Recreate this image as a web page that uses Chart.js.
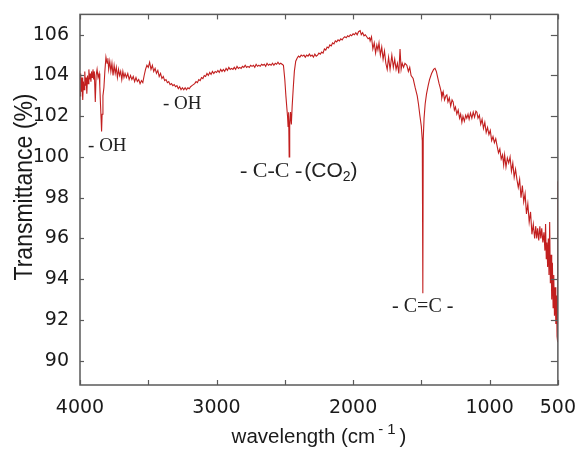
<!DOCTYPE html>
<html><head><meta charset="utf-8">
<script src="https://cdn.jsdelivr.net/npm/chart.js@4/dist/chart.umd.min.js"></script>
<style>html,body{margin:0;padding:0;background:#fff}#wrap{width:580px;height:451px}</style>
</head><body><div id="wrap"><canvas id="c" width="580" height="451"></canvas></div>
<script>
// ---- data (wavenumber in cm-1, transmittance in %) ----
const wavenumbers = [
4000,3995,3990,3985,3980,3975,3970,3965,3960,3955,3950,3945,3940,3935,3930,3925,3920,3915,3910,3905,3900,3895,3888,3882,3875,3868,3860,3855,3850,3845,3842,3838,3832,3825,3818,3810,3802,3796,3790,
3782,3774,3766,3758,3750,3742,3734,3726,3718,3710,3702,3694,3686,3678,3670,3660,3650,3640,3630,3620,3610,3600,3590,3580,3570,3560,3550,3540,3530,3520,3510,3500,3490,3480,3470,3460,3450,3440,3430,3420,3410,3400,3390,3380,3370,3360,3350,3340,3330,3320,3310,3300,3290,3280,3270,3260,3250,3240,3230,3220,3210,3200,3190,3180,3170,3160,3150,3140,3130,3120,3110,3100,3090,3080,3070,3060,3050,3040,3030,3020,3010,3000,
2990,2980,2970,2960,2950,2940,2930,2920,2910,2900,2890,2880,2870,2860,2850,2840,2830,2820,2810,2800,2790,2780,2770,2760,2750,2740,2730,2720,2710,2700,2690,2680,2670,2660,2650,2640,2630,2620,2610,2600,2590,2580,2570,2560,2550,2540,2530,2520,2510,2500,2492,2485,2480,2476,2472,2468,2464,2458,2452,2446,2438,2430,2420,2410,2400,
2390,2380,2370,2360,2350,2340,2330,2320,2310,2300,2290,2280,2270,2260,2250,2240,2230,2220,2210,2200,2190,2180,2170,2160,2150,2140,2130,2120,2110,2100,2090,2080,2070,2060,2050,2040,2030,2020,2010,2000,1990,1980,1970,1960,1948,
1940,1930,1920,1910,1900,1890,1880,1875,1865,1855,1845,1835,1826,1818,1810,1800,1790,1780,1770,1760,1750,1740,1729,1716,1705,1695,1685,1675,1665,1656,1648,1640,1630,1620,1606,1595,1585,1575,1560,1545,1530,1521,1510,1500,1493,1489,1486,1480,1472,1462,1450,1440,1425,1410,1400,1390,1380,1370,1362,1355,1350,
1340,1330,1320,1313,1305,1295,1285,1275,1267,1258,1250,1240,1230,1220,1212,1203,1195,1185,1175,1167,1158,1150,1140,1130,1120,1110,1100,1093,1085,1075,1065,1055,1045,1035,1025,1015,1005,995,985,975,965,955,947,935,925,915,905,897,890,880,870,860,850,840,830,820,810,800,790,780,770,760,750,740,730,720,710,700,690,680,670,662,655,648,640,632,625,618,610,602,595,590,585,580,575,570,565,560,555,550,545,540,535,530,525,520,515,510,506,503,500
];
const transmittance = [
103.0,104.1,103.2,103.9,102.8,103.7,103.3,104.2,103.5,103.9,103.1,104.0,103.6,104.3,103.8,104.1,103.7,104.2,103.9,104.3,103.8,104.2,102.7,104.0,104.3,103.9,104.1,103.5,102.6,101.8,101.25,102.1,103.0,103.4,104.2,104.9,104.6,104.85,104.3,
104.7,104.2,104.6,104.0,104.5,104.1,104.4,103.9,104.3,104.0,104.2,103.8,104.2,103.9,104.1,103.9,104.1,103.8,104.0,103.8,103.95,103.7,103.9,103.7,103.8,103.6,103.75,103.65,104.0,104.3,104.5,104.4,104.65,104.3,104.5,104.2,104.35,104.1,104.25,103.95,104.1,103.85,103.95,103.75,103.8,103.65,103.7,103.55,103.6,103.5,103.55,103.45,103.5,103.35,103.45,103.3,103.4,103.3,103.4,103.3,103.4,103.35,103.45,103.5,103.55,103.6,103.7,103.65,103.8,103.75,103.9,103.85,104.0,103.95,104.1,104.0,104.15,104.05,104.2,104.1,104.2,104.15,
104.25,104.15,104.3,104.2,104.3,104.2,104.35,104.25,104.4,104.3,104.35,104.3,104.4,104.3,104.45,104.35,104.4,104.35,104.45,104.4,104.5,104.4,104.45,104.4,104.5,104.45,104.5,104.4,104.55,104.45,104.5,104.45,104.55,104.5,104.55,104.45,104.6,104.5,104.55,104.5,104.6,104.5,104.6,104.55,104.65,104.55,104.6,104.55,104.5,103.8,103.0,102.4,102.0,101.5,102.2,100.0,101.6,102.2,101.6,102.5,103.4,104.2,104.7,104.85,104.95,
104.9,105.0,104.95,105.0,104.9,105.0,104.95,105.05,104.95,105.0,104.9,105.05,104.95,105.0,105.1,105.05,105.15,105.1,105.3,105.25,105.4,105.35,105.5,105.45,105.6,105.55,105.7,105.65,105.75,105.7,105.8,105.75,105.85,105.9,105.85,105.95,105.9,106.0,105.95,106.05,106.0,106.1,106.0,106.15,106.2,
106.0,106.1,105.95,106.0,105.9,105.8,105.85,105.7,105.9,105.3,105.6,105.1,105.5,105.25,105.6,105.0,105.4,104.8,105.2,104.6,104.3,104.9,104.3,105.0,104.4,104.8,104.3,104.6,104.1,105.3,104.3,104.6,104.4,104.6,104.5,104.2,104.4,104.0,103.85,103.4,103.0,102.6,102.0,101.5,100.8,93.3,100.9,101.9,102.6,103.1,103.5,103.8,104.1,104.3,104.35,104.2,103.9,103.6,103.4,103.2,102.9,
103.2,102.8,103.0,103.05,102.7,102.9,102.5,102.8,102.7,102.3,102.45,102.1,102.3,101.9,102.1,101.7,102.0,101.75,102.05,101.9,102.1,101.85,102.15,101.9,102.2,101.95,102.25,102.2,101.9,102.05,101.6,101.85,101.4,101.7,101.2,101.45,101.1,101.3,100.8,101.0,100.7,100.9,100.6,100.2,100.4,99.9,100.1,99.6,100.1,99.5,99.95,99.7,100.0,99.3,99.7,99.0,99.4,98.9,98.5,98.9,98.0,98.6,97.8,98.2,97.2,97.7,96.8,97.3,96.2,96.7,96.0,96.6,96.0,96.5,95.9,96.6,96.0,96.5,95.8,96.3,95.4,96.7,95.0,95.8,94.6,96.0,94.2,96.8,93.8,95.2,93.0,94.8,92.6,94.2,92.2,93.6,91.8,93.2,91.2,98.8,90.9
];
const xTickValues = [4000,3500,3000,2500,2000,1500,1000,500];
const xTickLabels = ['4000','','3000','','2000','','1000','500'];
const yTickValues = [90,92,94,96,98,100,102,104,106];
const yTickLabels = ['90','92','94','96','98','100','102','104','106'];
const xTitle = 'wavelength (cm';
const xTitleSup = '-1';
const yTitle = 'Transmittance (%)';
// peak annotations: text and the spectrum point they sit at
const annoTexts = ['- OH', '- OH', '- C-C -', '- C=C -'];
const annoWn = [3941, 3392, 2828, 1714];
const annoT = [100.28, 102.33, 99.0, 92.38];
const co2Text = ['(CO', '2', ')'];

const points = wavenumbers.map((w, i) => ({x: w, y: transmittance[i]}));

const decor = {
  id: 'decor',
  beforeDraw(chart) {
    const ctx = chart.ctx;
    ctx.save(); ctx.fillStyle = '#fff'; ctx.fillRect(0, 0, chart.width, chart.height); ctx.restore();
  },
  afterDraw(chart) {
    const ctx = chart.ctx, ca = chart.chartArea;
    const xs = chart.scales.x, ys = chart.scales.y;
    ctx.save();
    ctx.strokeStyle = '#5a5a5a'; ctx.lineWidth = 1.5;
    ctx.strokeRect(ca.left, ca.top, ca.right - ca.left, ca.bottom - ca.top);
    ctx.lineWidth = 1.2;
    const ln = (a, b, c, d) => { ctx.beginPath(); ctx.moveTo(a, b); ctx.lineTo(c, d); ctx.stroke(); };
    xTickValues.forEach(v => {
      const px = Math.round(xs.getPixelForValue(v)) + 0.5;
      ln(px, ca.bottom, px, ca.bottom - 5);
      ln(px, ca.top, px, ca.top + 5);
    });
    yTickValues.forEach(v => {
      const py = Math.round(ys.getPixelForValue(v)) + 0.5;
      ln(ca.left, py, ca.left + 4, py);
      ln(ca.right, py, ca.right - 7, py);
    });
    // axis titles
    ctx.fillStyle = '#1a1a1a';
    ctx.save();
    ctx.translate(31.5, 187);
    ctx.rotate(-Math.PI / 2);
    ctx.scale(1, 1.12);
    ctx.font = '23px "Liberation Sans", Arial, sans-serif';
    ctx.textAlign = 'center'; ctx.textBaseline = 'alphabetic';
    ctx.fillText(yTitle, 0, 0);
    ctx.restore();

    ctx.font = '20.5px "Liberation Sans", Arial, sans-serif';
    ctx.textAlign = 'left'; ctx.textBaseline = 'alphabetic';
    const w1 = ctx.measureText(xTitle).width;
    ctx.font = '15px "Liberation Sans", Arial, sans-serif';
    ctx.letterSpacing = '4px';
    const w2 = ctx.measureText(xTitleSup).width;
    ctx.letterSpacing = '0px';
    ctx.font = '20.5px "Liberation Sans", Arial, sans-serif';
    const w3 = ctx.measureText(')').width;
    const total = w1 + 3 + w2 + w3;
    let sx = (ca.left + ca.right) / 2 - total / 2;
    const by = 443;
    ctx.fillText(xTitle, sx, by);
    sx += w1 + 3;
    ctx.font = '15px "Liberation Sans", Arial, sans-serif';
    ctx.letterSpacing = '4px';
    ctx.fillText(xTitleSup, sx, by - 9);
    ctx.letterSpacing = '0px';
    sx += w2;
    ctx.font = '20.5px "Liberation Sans", Arial, sans-serif';
    ctx.fillText(')', sx, by);

    // annotations
    const annoSizes = [19, 19, 22, 20];
    ctx.fillStyle = '#222';
    annoTexts.forEach((t, i) => {
      ctx.font = annoSizes[i] + 'px "Liberation Serif", "Times New Roman", serif';
      const px = xs.getPixelForValue(annoWn[i]);
      const py = ys.getPixelForValue(annoT[i]);
      ctx.fillText(t, px, py);
      if (i === 2) {
        let cx = px + ctx.measureText(t).width + 2;
        ctx.font = '21px "Liberation Sans", Arial, sans-serif';
        ctx.fillText(co2Text[0], cx, py);
        cx += ctx.measureText(co2Text[0]).width;
        ctx.font = '14px "Liberation Sans", Arial, sans-serif';
        ctx.fillText(co2Text[1], cx, py + 4);
        cx += ctx.measureText(co2Text[1]).width;
        ctx.font = '21px "Liberation Sans", Arial, sans-serif';
        ctx.fillText(co2Text[2], cx, py);
      }
    });
    ctx.restore();
  }
};

new Chart(document.getElementById('c'), {
  type: 'line',
  data: { datasets: [{ data: points, borderColor: '#c21f1f', borderWidth: 1.1, pointRadius: 0, tension: 0, fill: false }] },
  options: {
    responsive: false, animation: false, devicePixelRatio: 1,
    layout: { padding: { left: 0, right: 22, top: 13, bottom: 0 } },
    plugins: { legend: { display: false }, tooltip: { enabled: false } },
    scales: {
      x: {
        type: 'linear', reverse: true, min: 500, max: 4000,
        afterBuildTicks: s => { s.ticks = xTickValues.map(v => ({ value: v })); },
        afterFit: s => { s.height = 66; },
        grid: { display: false }, border: { display: false },
        ticks: {
          autoSkip: false, maxRotation: 0, padding: 4, color: '#1a1a1a',
          font: { family: 'DejaVu Sans', size: 19 },
          callback: v => { const i = xTickValues.indexOf(v); return i >= 0 ? xTickLabels[i] : ''; }
        }
      },
      y: {
        min: 88.8, max: 107,
        afterBuildTicks: s => { s.ticks = yTickValues.map(v => ({ value: v })); },
        afterFit: s => { s.width = 80; },
        grid: { display: false }, border: { display: false },
        ticks: {
          padding: 3, color: '#1a1a1a',
          font: { family: 'DejaVu Sans', size: 19 },
          callback: v => { const i = yTickValues.indexOf(v); return i >= 0 ? yTickLabels[i] : ''; }
        }
      }
    }
  },
  plugins: [decor]
});
</script>
</body></html>
